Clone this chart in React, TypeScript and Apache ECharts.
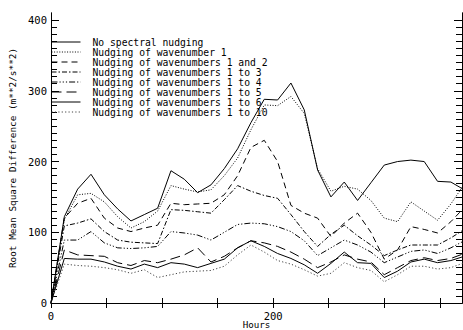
import React, { useEffect, useRef } from "react";
import * as echarts from "echarts";

const hours = [0, 12, 24, 36, 48, 60, 72, 84, 96, 108, 120, 132, 144, 156, 168, 180, 192, 204, 216, 228, 240, 252, 264, 276, 288, 300, 312, 324, 336, 348, 360, 372];

const seriesNames = [
  "No spectral nudging",
  "Nudging of wavenumber 1",
  "Nudging of wavenumbers 1 and 2",
  "Nudging of wavenumbers 1 to 3",
  "Nudging of wavenumbers 1 to 4",
  "Nudging of wavenumbers 1 to 5",
  "Nudging of wavenumbers 1 to 6",
  "Nudging of wavenumbers 1 to 10",
];

const noNudging = [0, 122, 161, 182, 153, 133, 116, 125, 134, 187, 175, 156, 167, 190, 218, 255, 288, 287, 311, 273, 188, 150, 171, 145, 170, 195, 200, 202, 200, 172, 171, 160];
const wave1 = [0, 118, 153, 155, 143, 122, 106, 115, 130, 166, 161, 157, 160, 180, 205, 245, 280, 279, 292, 268, 190, 158, 165, 161, 145, 120, 115, 143, 130, 117, 140, 168];
const wave1and2 = [0, 120, 141, 148, 120, 106, 101, 106, 110, 141, 139, 140, 141, 153, 180, 220, 230, 200, 138, 127, 120, 94, 113, 127, 100, 62, 75, 108, 104, 99, 115, 135];
const wave1to3 = [0, 109, 113, 119, 101, 89, 86, 85, 84, 132, 131, 129, 127, 146, 166, 158, 152, 148, 125, 101, 80, 97, 110, 95, 82, 67, 75, 82, 82, 82, 92, 104];
const wave1to4 = [0, 89, 89, 101, 85, 78, 77, 78, 80, 101, 99, 96, 89, 100, 111, 113, 112, 108, 101, 88, 67, 78, 89, 82, 72, 57, 65, 73, 75, 70, 78, 88];
const wave1to5 = [0, 75, 68, 67, 66, 57, 53, 60, 57, 62, 68, 78, 58, 66, 78, 88, 85, 80, 72, 62, 50, 58, 68, 62, 58, 40, 50, 60, 64, 60, 63, 70];
const wave1to6 = [0, 63, 62, 62, 58, 52, 48, 55, 50, 57, 55, 50, 56, 62, 78, 88, 80, 70, 63, 54, 42, 56, 72, 57, 56, 36, 45, 58, 62, 57, 60, 66];
const wave1to10 = [0, 55, 53, 52, 50, 47, 42, 47, 36, 40, 44, 45, 46, 52, 68, 82, 72, 60, 55, 47, 38, 42, 57, 50, 46, 30, 40, 52, 52, 48, 50, 57];

const allValues = [noNudging, wave1, wave1and2, wave1to3, wave1to4, wave1to5, wave1to6, wave1to10];

const xTickValues = [0, 50, 100, 150, 200, 250, 300, 350];
const xLabelValues = [0, 200];
const yLabelValues = [0, 100, 200, 300, 400];
const yMinorValues = [0, 10, 20, 30, 40, 50, 60, 70, 80, 90, 100, 110, 120, 130, 140, 150, 160, 170, 180, 190, 200, 210, 220, 230, 240, 250, 260, 270, 280, 290, 300, 310, 320, 330, 340, 350, 360, 370, 380, 390, 400];

const lineTypes: any[] = [
  "solid",
  [1, 1.6],
  [6, 4],
  [5, 2, 1.5, 2],
  [6, 2, 1.2, 2, 1.2, 2, 1.2, 2],
  [10, 5],
  "solid",
  [1.2, 2.2],
];
const lineColors = ["#000", "#000", "#000", "#000", "#000", "#000", "#000", "#444"];

const FONT = "DejaVu Sans Mono";

export default function App() {
  const ref = useRef<HTMLDivElement>(null);
  useEffect(() => {
    if (!ref.current) return;
    const chart = echarts.init(ref.current, null, { renderer: "svg" });
    const axisLine = { show: true, lineStyle: { color: "#000", width: 1 } };
    const yBase = { type: "value", min: 0, max: 410, splitLine: { show: false }, axisLine };
    chart.setOption({
      animation: false,
      backgroundColor: "#fff",
      grid: { left: 51, right: 1, top: 13, bottom: 27, outerBoundsMode: "none", containLabel: false },
      legend: {
        orient: "vertical",
        left: 51,
        top: 37,
        padding: 0,
        itemWidth: 29,
        itemHeight: 9.7,
        itemGap: 0,
        selectedMode: false,
        itemStyle: { opacity: 0 },
        lineStyle: { width: 1 },
        textStyle: { color: "#000", fontFamily: FONT, fontSize: 9.7, lineHeight: 9.7, padding: [0, 0, 0, 7] },
        data: seriesNames,
      },
      xAxis: [
        {
          type: "value",
          min: 0,
          max: 370,
          position: "bottom",
          splitLine: { show: false },
          axisLine,
          axisTick: { show: true, inside: true, length: 5, customValues: xTickValues, lineStyle: { color: "#000" } },
          axisLabel: { customValues: xLabelValues, color: "#000", fontFamily: FONT, fontSize: 10.5, margin: 7 },
          name: "Hours",
          nameLocation: "middle",
          nameGap: 16,
          nameMoveOverlap: false,
          nameTextStyle: { color: "#000", fontFamily: FONT, fontSize: 9.2, lineHeight: 10, verticalAlign: "top" },
        },
        {
          type: "value",
          min: 0,
          max: 370,
          position: "top",
          splitLine: { show: false },
          axisLine,
          axisTick: { show: true, inside: true, length: 5, customValues: xTickValues, lineStyle: { color: "#000" } },
          axisLabel: { show: false },
        },
      ],
      yAxis: [
        {
          ...yBase,
          position: "left",
          axisTick: { show: true, inside: true, length: 6, customValues: yMinorValues, lineStyle: { color: "#000" } },
          axisLabel: { customValues: yLabelValues, color: "#000", fontFamily: FONT, fontSize: 10.5, margin: 4 },
          name: "Root Mean Square Difference (m**2/s**2)",
          nameLocation: "middle",
          nameGap: 30,
          nameTextStyle: { color: "#000", fontFamily: FONT, fontSize: 9.4 },
        },
        {
          ...yBase,
          position: "left",
          axisTick: { show: true, inside: true, length: 8, customValues: yLabelValues, lineStyle: { color: "#000" } },
          axisLabel: { show: false },
        },
        {
          ...yBase,
          position: "right",
          axisTick: { show: true, inside: true, length: 6, customValues: yMinorValues, lineStyle: { color: "#000" } },
          axisLabel: { show: false },
        },
        {
          ...yBase,
          position: "right",
          axisTick: { show: true, inside: true, length: 8, customValues: yLabelValues, lineStyle: { color: "#000" } },
          axisLabel: { show: false },
        },
      ],
      series: seriesNames.map((name, i) => ({
        name,
        type: "line",
        xAxisIndex: 0,
        yAxisIndex: 0,
        symbol: "none",
        showSymbol: false,
        clip: true,
        lineStyle: { color: lineColors[i], width: 1, type: lineTypes[i] },
        itemStyle: { color: lineColors[i] },
        data: hours.map((h, j) => [h, allValues[i][j]]),
      })),
    });
    return () => chart.dispose();
  }, []);
  return <div ref={ref} style={{ width: 463, height: 330, position: "absolute", left: 0, top: 0 }} />;
}
